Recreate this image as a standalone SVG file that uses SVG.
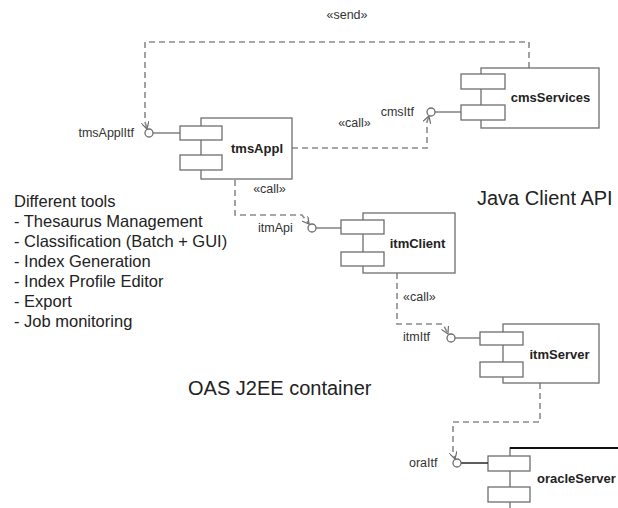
<svg xmlns="http://www.w3.org/2000/svg" width="618" height="508" viewBox="0 0 618 508">
<style>
.box{fill:#fff;stroke:#6e6e6e;stroke-width:1.3}
.port{fill:#fff;stroke:#6e6e6e;stroke-width:1.3}
.ball{fill:#fff;stroke:#6e6e6e;stroke-width:1.3}
.lnk{stroke:#6e6e6e;stroke-width:1.3;fill:none}
.dep{stroke:#8a8a8a;stroke-width:1.6;fill:none;stroke-dasharray:6,4}
.lbl{font-family:"Liberation Sans",Arial,sans-serif;font-size:12.5px;fill:#333}
.name{font-family:"Liberation Sans",Arial,sans-serif;font-size:13px;font-weight:bold;fill:#222}
.big{font-family:"Liberation Sans",Arial,sans-serif;font-size:20px;fill:#222}
.list{font-family:"Liberation Sans",Arial,sans-serif;font-size:16.5px;fill:#222}
</style>
<defs>
<marker id="open" viewBox="0 0 8 8" refX="7" refY="4" markerWidth="8" markerHeight="8" markerUnits="userSpaceOnUse" orient="auto">
<path d="M0,0 L7,4 L0,8" fill="none" stroke="#6e6e6e" stroke-width="1.2"/>
</marker>
</defs>
<rect width="618" height="508" fill="#fff"/>

<g id="connectors">
<path class="dep" d="M529,68 V42 H145 V122 L147,129" marker-end="url(#open)"/>
<path class="dep" d="M292,148 H427 V122 L429,116" marker-end="url(#open)"/>
<path class="dep" d="M235,180 V215 H302 L309,224" marker-end="url(#open)"/>
<path class="dep" d="M397,273 V324 H443 L448,334" marker-end="url(#open)"/>
<path class="dep" d="M540,383 V422 H453 V452 L455,459" marker-end="url(#open)"/>
<text class="lbl" x="347" y="19" text-anchor="middle">«send»</text>
<text class="lbl" x="354.5" y="127" text-anchor="middle">«call»</text>
<text class="lbl" x="269.5" y="193" text-anchor="middle">«call»</text>
<text class="lbl" x="403" y="301">«call»</text>
</g>

<g id="tmsAppl">
<rect class="box" x="201" y="118" width="91" height="61"/>
<rect class="port" x="180" y="126" width="42" height="14"/>
<rect class="port" x="180" y="155" width="42" height="15"/>
<text class="name" x="257" y="153" text-anchor="middle">tmsAppl</text>
<line class="lnk" x1="153" y1="133" x2="180" y2="133"/>
<circle class="ball" cx="149" cy="133" r="4"/>
<text class="lbl" x="134" y="137" text-anchor="end">tmsApplItf</text>
</g>

<g id="cmsServices">
<rect class="box" x="481" y="68" width="118" height="60"/>
<rect class="port" x="461" y="74" width="44" height="15"/>
<rect class="port" x="461" y="105" width="44" height="15"/>
<text class="name" x="550.5" y="102" text-anchor="middle">cmsServices</text>
<line class="lnk" x1="435" y1="112" x2="461" y2="112"/>
<circle class="ball" cx="431" cy="112" r="4"/>
<text class="lbl" x="414" y="116" text-anchor="end">cmsItf</text>
</g>

<g id="itmClient">
<rect class="box" x="363" y="213" width="92" height="60"/>
<rect class="port" x="341" y="220" width="43" height="14"/>
<rect class="port" x="341" y="252" width="43" height="14"/>
<text class="name" x="417.5" y="248" text-anchor="middle">itmClient</text>
<line class="lnk" x1="316" y1="228" x2="341" y2="228"/>
<circle class="ball" cx="312" cy="228" r="4"/>
<text class="lbl" x="258" y="232">itmApi</text>
</g>

<g id="itmServer">
<rect class="box" x="503" y="324" width="96" height="59"/>
<rect class="port" x="480" y="332" width="43" height="13"/>
<rect class="port" x="480" y="362" width="43" height="15"/>
<text class="name" x="559.5" y="359" text-anchor="middle">itmServer</text>
<line class="lnk" x1="455" y1="338" x2="480" y2="338"/>
<circle class="ball" cx="451" cy="338" r="4"/>
<text class="lbl" x="403" y="341">itmItf</text>
</g>

<g id="oracleServer">
<path d="M510,520 V448 H620" fill="none" stroke="#6e6e6e" stroke-width="1.3"/>
<line x1="510" y1="448" x2="620" y2="448" stroke="#111" stroke-width="2"/>
<rect class="port" x="488" y="456" width="42" height="15"/>
<rect class="port" x="488" y="487" width="42" height="15"/>
<text class="name" x="537" y="483">oracleServer</text>
<line x1="461" y1="463" x2="488" y2="463" stroke="#333" stroke-width="1.6"/>
<circle class="ball" cx="457" cy="463" r="4"/>
<text class="lbl" x="409" y="467">oraItf</text>
</g>

<g id="notes">
<text class="big" x="477" y="205">Java Client API</text>
<text class="big" x="188" y="395">OAS J2EE container</text>
<text class="list" x="14" y="207">Different tools</text>
<text class="list" x="14" y="227">- Thesaurus Management</text>
<text class="list" x="14" y="247">- Classification (Batch + GUI)</text>
<text class="list" x="14" y="267">- Index Generation</text>
<text class="list" x="14" y="287">- Index Profile Editor</text>
<text class="list" x="14" y="307">- Export</text>
<text class="list" x="14" y="327">- Job monitoring</text>
</g>
</svg>
